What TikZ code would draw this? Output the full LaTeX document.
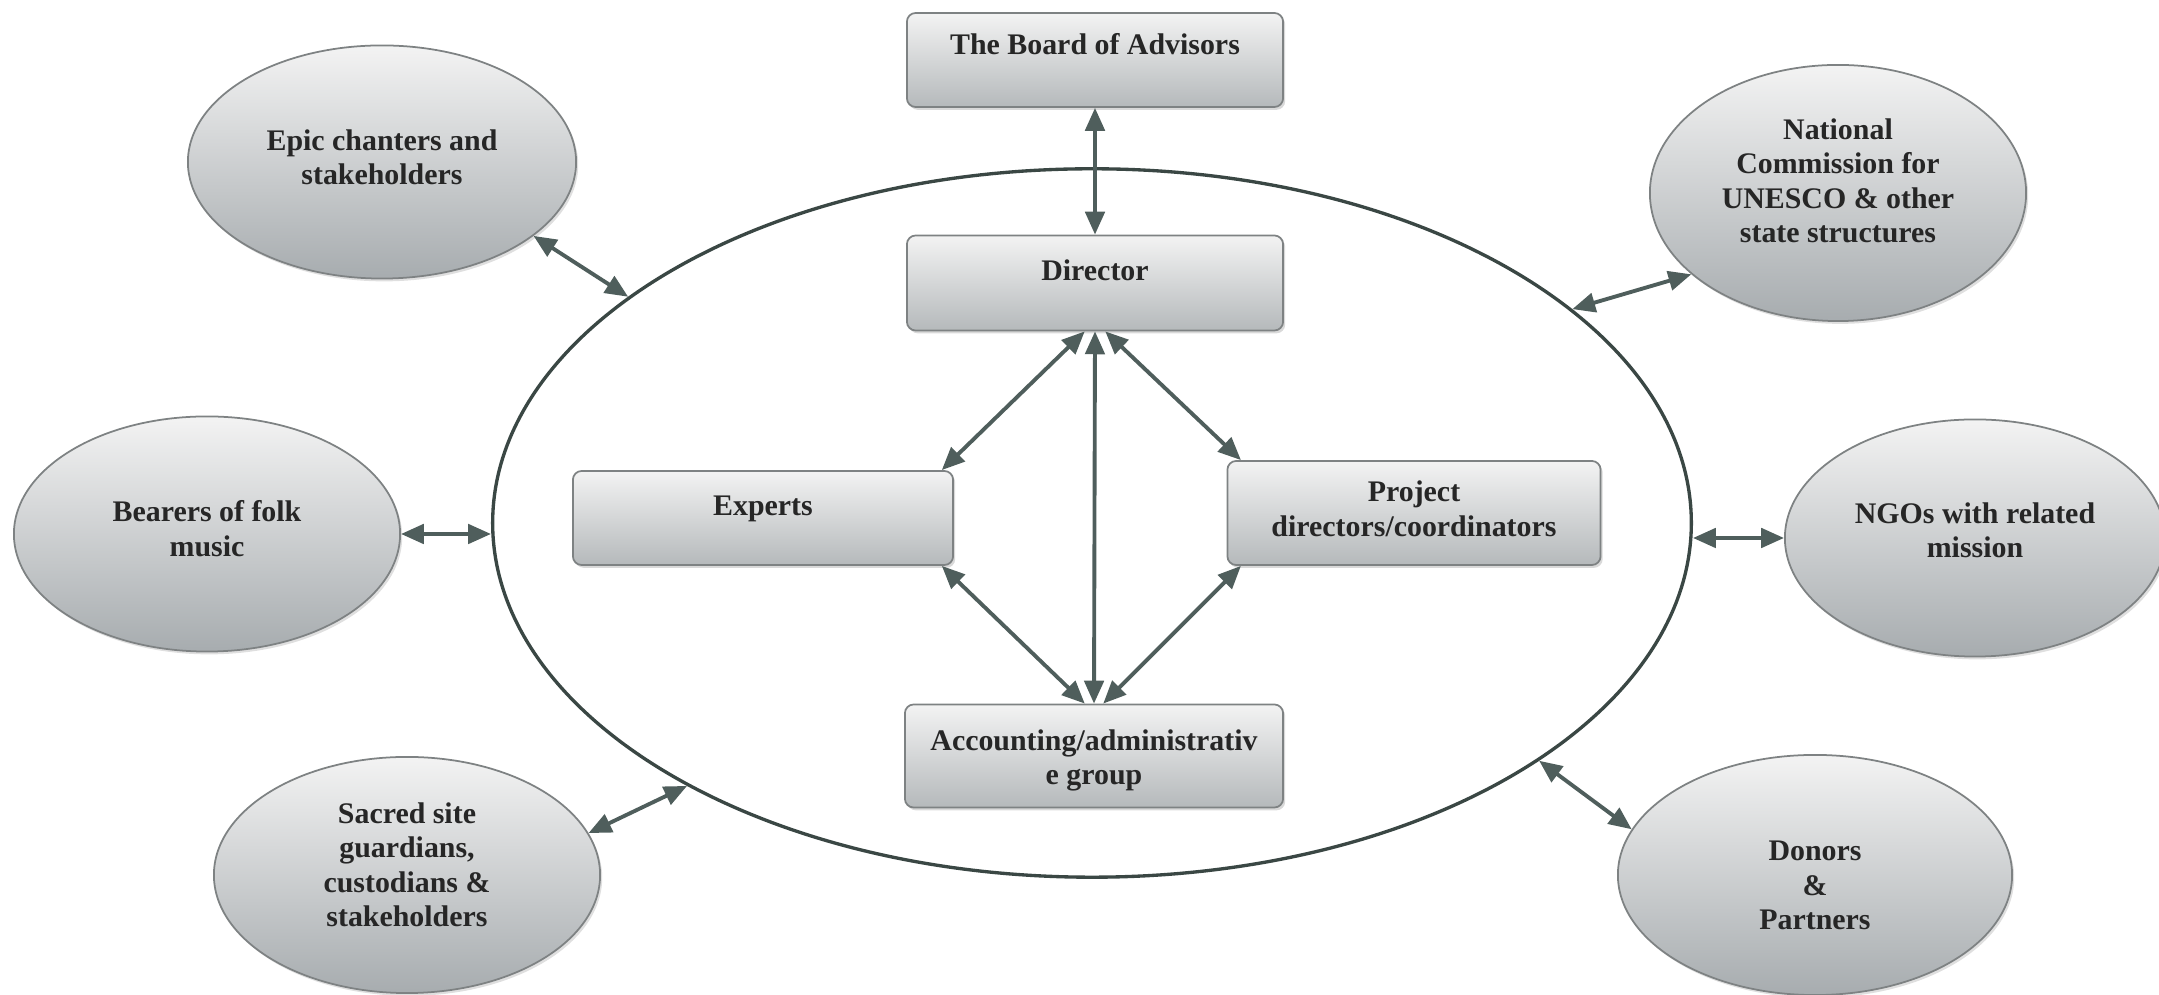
\documentclass[tikz,border=0pt]{standalone}
\usepackage{fontspec}
\setmainfont{Liberation Serif}
\usetikzlibrary{shapes.geometric,arrows.meta,shadows}
\definecolor{arrc}{HTML}{4F5E5C}
\definecolor{ringc}{HTML}{3A4744}
\definecolor{edgec}{HTML}{7E8283}
\definecolor{filltop}{HTML}{F3F3F3}
\definecolor{boxbot}{HTML}{B5B9BB}
\definecolor{blobbot}{HTML}{A7ACAF}
\newcommand\shiftup[2]{\raisebox{#1}[\height][\depth]{\begin{tabular}{@{}c@{}}#2\end{tabular}}}
\begin{document}
\begin{tikzpicture}[x=0.01cm,y=-0.01cm,
  txt/.style={font=\fontsize{8.5}{9.8}\selectfont\bfseries, align=center, text=black!85},
  box/.style={txt, rectangle, draw=edgec, line width=0.5pt, rounded corners=2.5pt,
    top color=filltop, bottom color=boxbot, inner sep=0pt,
    drop shadow={opacity=0.3, shadow xshift=0.6pt, shadow yshift=-0.8pt}},
  blob/.style={txt, ellipse, draw=edgec, line width=0.5pt,
    top color=filltop, bottom color=blobbot, inner sep=0pt,
    drop shadow={opacity=0.25, shadow xshift=0.6pt, shadow yshift=-0.8pt}},
  ring/.style={ellipse, draw=ringc, line width=0.95pt, inner sep=0pt},
  arr/.style={draw=arrc, line width=1.1pt,
    {Triangle[length=6.5pt,width=5.5pt]}-{Triangle[length=6.5pt,width=5.5pt]}}
]
\useasboundingbox (0,0) rectangle (2159,995);

% central organisation ring
\node[ring, minimum width=11.98cm, minimum height=7.08cm] (org) at (1092,523) {};

% inner boxes
\node[box, minimum width=3.76cm, minimum height=0.94cm] (board) at (1095,60) {\shiftup{3.5pt}{The Board of Advisors}};
\node[box, minimum width=3.76cm, minimum height=0.95cm] (dir) at (1095,283) {\shiftup{2.8pt}{Director}};
\node[box, minimum width=3.80cm, minimum height=0.94cm] (exp) at (763,518) {\shiftup{2.8pt}{Experts}};
\node[box, minimum width=3.73cm, minimum height=1.04cm] (prj) at (1414,513) {\shiftup{0.3pt}{Project\\directors/coordinators}};
\node[box, minimum width=3.78cm, minimum height=1.03cm] (acc) at (1094,756) {\shiftup{-1.3pt}{Accounting/administrativ\\e group}};

% outer ellipses
\node[blob, minimum width=3.88cm, minimum height=2.33cm] (epic) at (382,162) {\shiftup{0.4pt}{Epic chanters and\\stakeholders}};
\node[blob, minimum width=3.76cm, minimum height=2.56cm] (nat) at (1838,193) {\shiftup{2.5pt}{National\\Commission for\\UNESCO \& other\\state structures}};
\node[blob, minimum width=3.86cm, minimum height=2.35cm] (bear) at (207,534) {\shiftup{0.5pt}{Bearers of folk\\music}};
\node[blob, minimum width=3.80cm, minimum height=2.37cm] (ngo) at (1975,538) {\shiftup{1.2pt}{NGOs with related\\mission}};
\node[blob, minimum width=3.86cm, minimum height=2.36cm] (sac) at (407,875) {\shiftup{2pt}{Sacred site\\guardians,\\custodians \&\\stakeholders}};
\node[blob, minimum width=3.94cm, minimum height=2.40cm] (don) at (1815,875) {\shiftup{-3.8pt}{Donors\\\&\\Partners}};

% inner connectors
\draw[arr] (board.south) -- (dir.north);
\draw[arr] (dir.258) -- (exp.15);
\draw[arr] (dir.282) -- (prj.163);
\draw[arr] (dir.south) -- (acc.north);
\draw[arr] (exp.-15) -- (acc.100);
\draw[arr] (prj.197) -- (acc.80);

% outer connectors
\draw[arr] (epic.-26) -- (org.154);
\draw[arr] (nat.209) -- (org.24);
\draw[arr] (bear.east) -- (bear.east -| org.west);
\draw[arr] (ngo.west -| org.east) -- (ngo.west);
\draw[arr] (sac.13) -- (org.213);
\draw[arr] (don.166) -- (org.-28);
\end{tikzpicture}
\end{document}
